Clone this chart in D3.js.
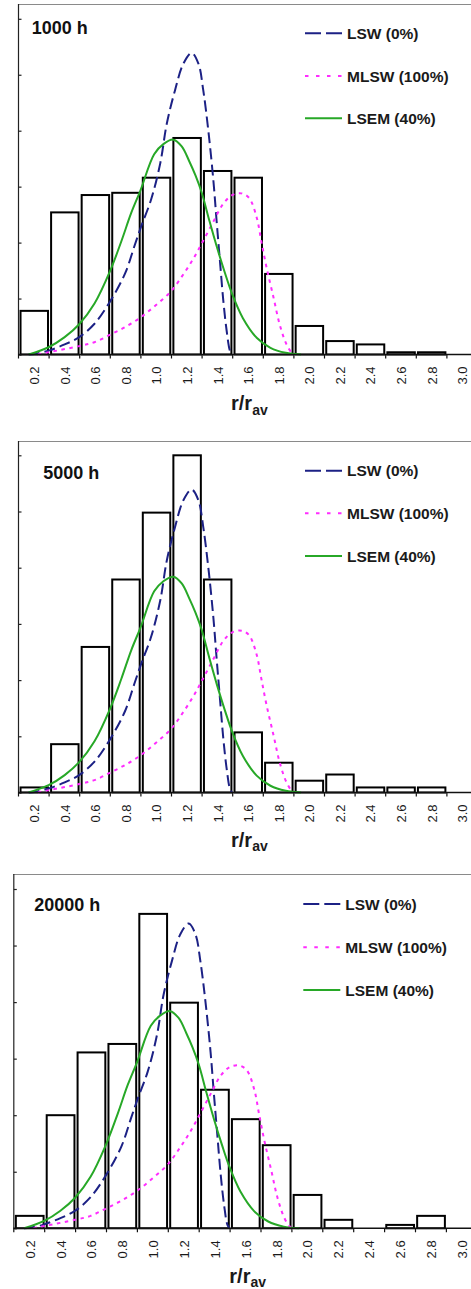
<!DOCTYPE html>
<html>
<head>
<meta charset="utf-8">
<script src="https://cdn.jsdelivr.net/npm/d3@7"></script>
<style>
  html, body { margin: 0; padding: 0; background: #fff; }
  svg { display: block; font-family: "Liberation Sans", Arial, sans-serif; }
</style>
</head>
<body>
<svg id="chart" width="471" height="1289"></svg>
<script>
// Size classes r/r_av (bin centres)
const categories = ["0.2","0.4","0.6","0.8","1.0","1.2","1.4","1.6","1.8","2.0","2.2","2.4","2.6","2.8","3.0"];

// Measured particle-size histograms (relative frequency, arbitrary units)
const bars1000  = [0.78, 2.54, 2.85, 2.89, 3.16, 3.87, 3.28, 3.16, 1.44, 0.51, 0.24, 0.18, 0.04, 0.04, 0];
const bars5000  = [0.09, 0.86, 2.59, 3.79, 4.98, 6.00, 3.79, 1.07, 0.53, 0.21, 0.32, 0.09, 0.09, 0.09, 0];
const bars20000 = [0.22, 2.00, 3.11, 3.26, 5.56, 3.99, 2.45, 1.93, 1.47, 0.59, 0.15, 0, 0.06, 0.22, 0];

const panelTitles = ["1000 h", "5000 h", "20000 h"];

// Theoretical distributions: r/r_av values and densities
const lswR = [0.17, 0.21, 0.30, 0.405, 0.50, 0.60, 0.70, 0.80, 0.86, 0.905, 0.97, 1.03, 1.072, 1.126, 1.181, 1.235, 1.279, 1.311, 1.344, 1.377, 1.398, 1.42, 1.442, 1.464, 1.486, 1.50];
const lswV = [0, 0.01, 0.07, 0.18, 0.31, 0.55, 0.94, 1.45, 1.93, 2.29, 2.77, 3.42, 4.12, 4.72, 5.20, 5.39, 5.20, 4.72, 4.00, 3.11, 2.39, 1.67, 0.96, 0.42, 0.06, 0];

const mlswR = [0.23, 0.30, 0.50, 0.60, 0.70, 0.80, 0.90, 1.00, 1.10, 1.18, 1.25, 1.31, 1.38, 1.44, 1.50, 1.56, 1.61, 1.66, 1.69, 1.725, 1.77, 1.81, 1.855, 1.89, 1.91];
const mlswV = [0, 0.04, 0.15, 0.22, 0.35, 0.49, 0.66, 0.88, 1.13, 1.43, 1.73, 2.03, 2.39, 2.69, 2.85, 2.88, 2.80, 2.45, 2.03, 1.55, 1.02, 0.54, 0.18, 0.03, 0];

const lsemR = [0.17, 0.30, 0.405, 0.50, 0.60, 0.70, 0.775, 0.84, 0.90, 0.99, 1.05, 1.115, 1.17, 1.22, 1.26, 1.30, 1.35, 1.40, 1.45, 1.50, 1.57, 1.66, 1.75, 1.85, 1.95];
const lsemV = [0, 0.13, 0.31, 0.54, 0.91, 1.48, 2.02, 2.53, 2.93, 3.58, 3.76, 3.84, 3.72, 3.45, 3.20, 2.90, 2.40, 1.92, 1.48, 1.08, 0.65, 0.30, 0.12, 0.03, 0];

const yTicks = [0, 1, 2, 3, 4, 5, 6];

const seriesNames = ["LSW (0%)", "MLSW (100%)", "LSEM (40%)"];

// Panel geometry
const layouts = [
  { left: 18,   step: 30.6, base: 354.5,  unit: 55.95, top: 4,   titleX: 31.7, titleY: 34.3,  legY: [33.3, 76, 118.3],     legX: 305,   labX: 231,   labY: 410 },
  { left: 18,   step: 30.6, base: 792.5,  unit: 56.2,  top: 441, titleX: 43.3, titleY: 479.3, legY: [470.7, 513.3, 556],   legX: 305,   labX: 231,   labY: 846.7 },
  { left: 13.3, step: 30.9, base: 1228.3, unit: 56.55, top: 874, titleX: 34.3, titleY: 910.7, legY: [904, 947.3, 990],     legX: 303.3, labX: 229.3, labY: 1282.7 }
];

const styles = [
  { color: "#1c2185", dash: "11,5",    legDash: "16,5" },
  { color: "#ff2cff", dash: "3.5,4.5", legDash: "3.5,7.5" },
  { color: "#27a827", dash: null,      legDash: null }
];

const W = 471;
const svg = d3.select("#chart");

function drawPanel(L, bars, title) {
  const g = svg.append("g");
  const span = L.step * categories.length;

  const xBand = d3.scaleBand().domain(categories).range([L.left, L.left + span]).paddingInner(0.085).paddingOuter(0.05);
  const xLin = d3.scaleLinear().domain([0.1, 0.1 + 0.2 * categories.length]).range([L.left, L.left + span]);
  const y = d3.scaleLinear().domain([0, 6]).range([L.base, L.base - 6 * L.unit]);

  // frame: top border and left axis
  g.append("line").attr("x1", L.left).attr("x2", W).attr("y1", L.top + 0.5).attr("y2", L.top + 0.5)
    .attr("stroke", "#8a8a8a").attr("stroke-width", 1.2);
  g.append("line").attr("x1", L.left + 0.5).attr("x2", L.left + 0.5).attr("y1", L.top).attr("y2", L.base)
    .attr("stroke", "#222").attr("stroke-width", 1.2);

  // y ticks pointing inward, no labels
  const yAxis = d3.axisRight(y).tickValues(yTicks).tickSize(3).tickFormat("");
  const ya = g.append("g").attr("transform", `translate(${L.left + 0.5},0)`).call(yAxis);
  ya.select(".domain").remove();
  ya.selectAll(".tick line").attr("stroke", "#222").attr("stroke-width", 1.2);

  // bars
  g.append("g").selectAll("rect").data(categories.map((c, i) => ({ c, v: bars[i] })).filter(d => d.v > 0))
    .join("rect")
    .attr("x", d => xBand(d.c) + 1)
    .attr("width", xBand.bandwidth() - 0.5)
    .attr("y", d => y(d.v))
    .attr("height", d => y(0) - y(d.v))
    .attr("fill", "#fff")
    .attr("stroke", "#000")
    .attr("stroke-width", 2);

  // theoretical curves
  const line = d3.line().x(d => xLin(d[0])).y(d => y(d[1])).curve(d3.curveCatmullRom.alpha(0.5));
  const curves = [[lswR, lswV], [mlswR, mlswV], [lsemR, lsemV]];
  curves.forEach((cv, k) => {
    const pts = cv[0].map((r, i) => [r, cv[1][i]]);
    const p = g.append("path").attr("d", line(pts)).attr("fill", "none")
      .attr("stroke", styles[k].color).attr("stroke-width", 2);
    if (styles[k].dash) p.attr("stroke-dasharray", styles[k].dash);
  });

  // x axis: baseline, boundary ticks, rotated labels
  g.append("line").attr("x1", L.left).attr("x2", W).attr("y1", L.base).attr("y2", L.base)
    .attr("stroke", "#111").attr("stroke-width", 1.5);
  const xAxis = d3.axisBottom(xLin).tickValues(d3.range(categories.length).map(i => 0.1 + 0.2 * i)).tickSize(4).tickFormat("");
  const xa = g.append("g").attr("transform", `translate(0,${L.base})`).call(xAxis);
  xa.select(".domain").remove();
  xa.selectAll(".tick line").attr("stroke", "#111").attr("stroke-width", 1.2);

  g.append("g").selectAll("text").data(categories).join("text")
    .attr("transform", d => `translate(${xBand(d) + xBand.bandwidth() / 2 + 1},${L.base + 12}) rotate(-90)`)
    .attr("text-anchor", "end")
    .attr("dy", "0.36em")
    .attr("font-size", 13)
    .attr("fill", "#1a1a1a")
    .text(d => d);

  // axis title r/r_av
  const lab = g.append("text").attr("x", L.labX).attr("y", L.labY)
    .attr("font-size", 20).attr("font-weight", "bold").attr("fill", "#1a1a1a");
  lab.append("tspan").text("r/r");
  lab.append("tspan").attr("font-size", 14).attr("dy", 4.5).text("av");

  // panel title
  g.append("text").attr("x", L.titleX).attr("y", L.titleY)
    .attr("font-size", 18).attr("font-weight", "bold").attr("fill", "#111").text(title);

  // legend
  seriesNames.forEach((name, k) => {
    const ly = L.legY[k];
    const ln = g.append("line").attr("x1", L.legX).attr("x2", L.legX + 37).attr("y1", ly).attr("y2", ly)
      .attr("stroke", styles[k].color).attr("stroke-width", 2);
    if (styles[k].legDash) ln.attr("stroke-dasharray", styles[k].legDash);
    g.append("text").attr("x", L.legX + 42).attr("y", ly + 5.5)
      .attr("font-size", 15.5).attr("font-weight", "bold").attr("fill", "#1a1a1a").text(name);
  });
}

drawPanel(layouts[0], bars1000, panelTitles[0]);
drawPanel(layouts[1], bars5000, panelTitles[1]);
drawPanel(layouts[2], bars20000, panelTitles[2]);
</script>
</body>
</html>
